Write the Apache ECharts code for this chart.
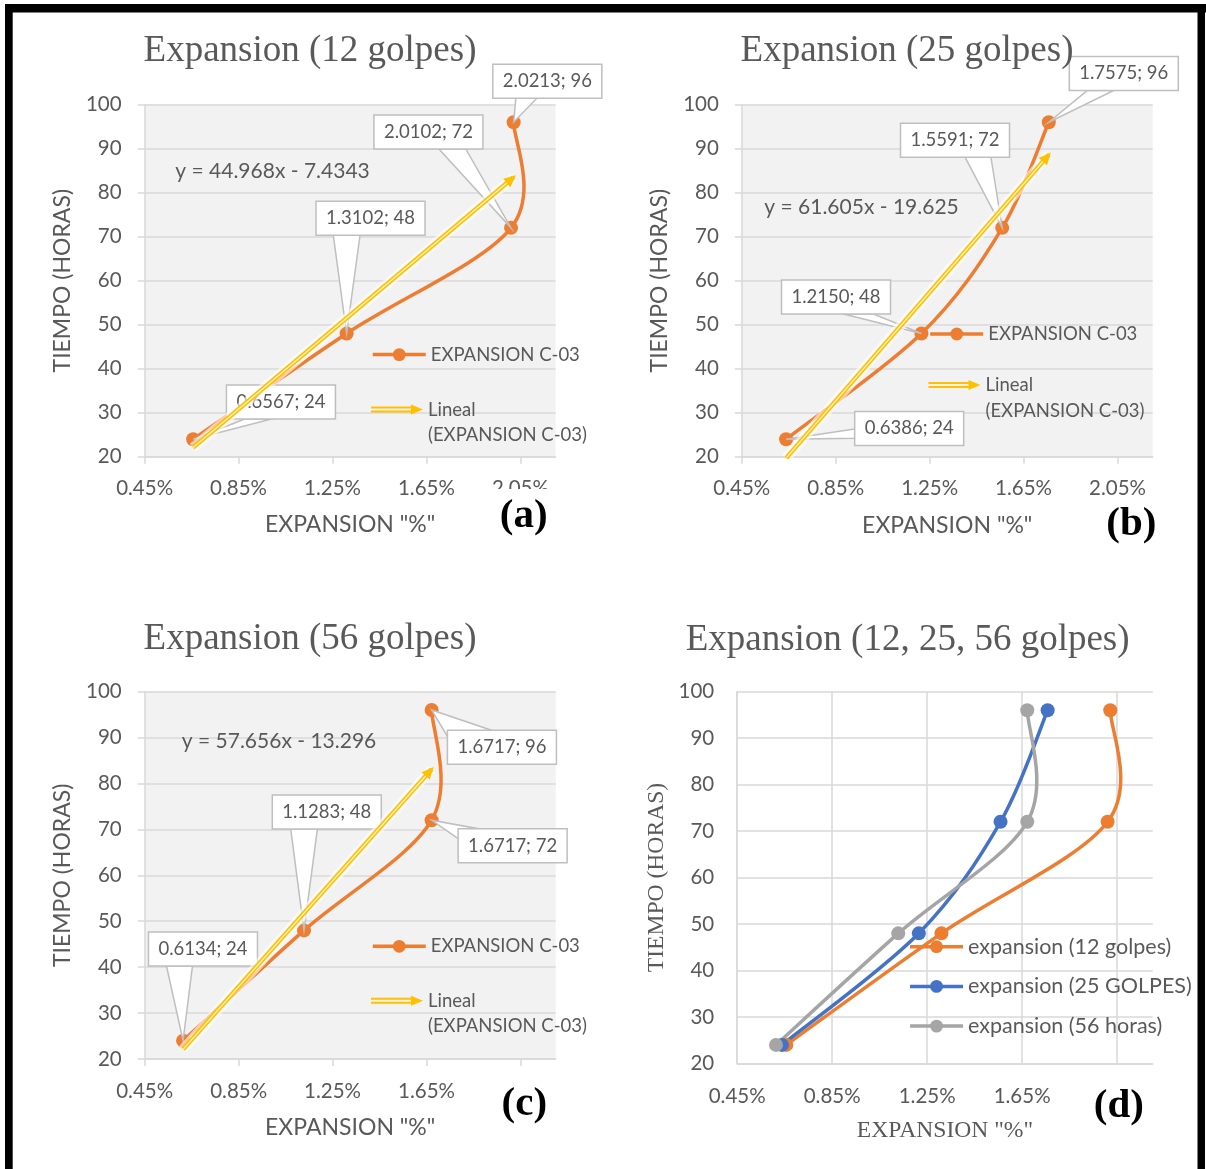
<!DOCTYPE html>
<html>
<head>
<meta charset="utf-8">
<script src="https://cdn.jsdelivr.net/npm/echarts@6/dist/echarts.min.js"></script>
<style>html,body{margin:0;padding:0;background:#fff}#c{width:1206px;height:1169px}</style>
</head>
<body>
<div id="c"></div>
<script>
// ---------------- data ----------------
const hours   = [24, 48, 72, 96];
const exp12   = [0.6567, 1.3102, 2.0102, 2.0213];
const exp25   = [0.6386, 1.2150, 1.5591, 1.7575];
const exp56   = [0.6134, 1.1283, 1.6717, 1.6717];
const xTicks  = [0.45, 0.85, 1.25, 1.65, 2.05];
const xLabelsAB = [0.45, 0.85, 1.25, 1.65, 2.05];
const xLabelsCD = [0.45, 0.85, 1.25, 1.65];
// linear trend lines (start / end points of the drawn trendline)
const trend12 = [[0.6567, 22.1], [2.0213, 83.5]];
const trend25 = [[0.6386, 19.7], [1.7575, 88.6]];
const trend56 = [[0.6134, 22.1], [1.6717, 83.1]];
const eqTexts = ['y = 44.968x - 7.4343', 'y = 61.605x - 19.625', 'y = 57.656x - 13.296'];
const titles  = ['Expansion (12 golpes)', 'Expansion (25 golpes)', 'Expansion (56 golpes)', 'Expansion (12, 25, 56 golpes)'];
const panelTags = ['(a)', '(b)', '(c)', '(d)'];
const seriesMain = 'EXPANSION C-03';
const seriesTrend = 'Lineal (EXPANSION C-03)';
const seriesD = ['expansion (12 golpes)', 'expansion (25 GOLPES)', 'expansion (56 horas)'];

// ---------------- styles / layout ----------------
const SANS = 'Lato', SERIF = 'Liberation Serif', TXT = '#595959', GL = '#d9d9d9';
const C_OR = '#ed7d31', C_BL = '#4472c4', C_GR = '#a5a5a5', C_YE = '#ffc000';
const grids = [
  {left: 144.6, top: 104.6, width: 411, height: 352.2},
  {left: 741.8, top: 104.6, width: 410.9, height: 352.2},
  {left: 144.7, top: 691.6, width: 411, height: 367.4},
  {left: 737.2, top: 691.6, width: 415.5, height: 371.9}
];
const yNameGap = [71, 70.4, 71, 68.4];
const xNameGap = [56.7, 57, 57.3, 55.7];
const xLabMargin = [20.7, 21.1, 22, 21.9];
const BW = 109, BH = 34;
const callouts = [
  [ {dx: 33.3, dy: -54.2, w1: [18.4, BH], w2: [45, BH]},
    {dx: -30.6, dy: -132.2, w1: [17.3, BH], w2: [44, BH]},
    {dx: -137.1, dy: -112.9, w1: [65, BH], w2: [91.8, BH]},
    {dx: -20.8, dy: -58, w1: [23, BH], w2: [44, BH]} ],
  [ {dx: 68.6, dy: -27.7, w1: [0, 17.5], w2: [0, 26.8]},
    {dx: -139.9, dy: -53.5, w1: [62, BH], w2: [92, BH]},
    {dx: -101.7, dy: -104.7, w1: [64.5, BH], w2: [90.4, BH]},
    {dx: 20.5, dy: -65.8, w1: [18.1, BH], w2: [44.4, BH]} ],
  [ {dx: -34.6, dy: -108.6, w1: [18, BH], w2: [44, BH]},
    {dx: -31.7, dy: -135.5, w1: [18.4, BH], w2: [45.1, BH]},
    {dx: 26.5, dy: 8.5, w1: [0, 10], w2: [20, 0]},
    {dx: 15.8, dy: 20.3, w1: [0, 6], w2: [44, 0]} ]
];

function pairs(xs) { return hours.map((h, i) => [xs[i], h]); }

function curvePath(pts) {
  const n = pts.length;
  let d = 'M' + pts[0][0] + ',' + pts[0][1];
  for (let i = 0; i < n - 1; i++) {
    const p0 = pts[Math.max(i - 1, 0)], p1 = pts[i], p2 = pts[i + 1], p3 = pts[Math.min(i + 2, n - 1)];
    const c1 = [p1[0] + (p2[0] - p0[0]) / 6, p1[1] + (p2[1] - p0[1]) / 6];
    const c2 = [p2[0] - (p3[0] - p1[0]) / 6, p2[1] - (p3[1] - p1[1]) / 6];
    d += ' C' + c1[0] + ',' + c1[1] + ' ' + c2[0] + ',' + c2[1] + ' ' + p2[0] + ',' + p2[1];
  }
  return d;
}

function curveSeries(g, xs, color, z) {
  return {
    type: 'custom', coordinateSystem: 'cartesian2d', xAxisIndex: g, yAxisIndex: g, z: z,
    silent: true, animation: false, data: [[xs[0], hours[0]]],
    renderItem: function (params, api) {
      const pts = xs.map((x, i) => api.coord([x, hours[i]]));
      return {type: 'path', shape: {pathData: curvePath(pts)},
        style: {fill: 'none', stroke: color, lineWidth: 3.5, lineCap: 'round', lineJoin: 'round'}};
    }
  };
}

function markerSeries(g, name, xs, color, z) {
  return {
    name: name, type: 'line', xAxisIndex: g, yAxisIndex: g, z: z, data: pairs(xs),
    symbol: 'circle', symbolSize: 14, showSymbol: true, color: color,
    itemStyle: {color: color}, lineStyle: {color: color, width: 3.5, opacity: 0},
    emphasis: {disabled: true}, animation: false
  };
}

function calloutSeries(g, xs) {
  const cfg = callouts[g];
  return {
    type: 'custom', coordinateSystem: 'cartesian2d', xAxisIndex: g, yAxisIndex: g, z: 4,
    silent: true, animation: false, clip: false,
    data: hours.map((h, i) => [xs[i], h, i]),
    renderItem: function (params, api) {
      const x = api.value(0), y = api.value(1), i = api.value(2);
      const p = api.coord([x, y]);
      const c = cfg[i];
      const bx = p[0] + c.dx, by = p[1] + c.dy;
      return {type: 'group', children: [
        {type: 'polygon', shape: {points: [[bx + c.w1[0], by + c.w1[1]], p, [bx + c.w2[0], by + c.w2[1]]]},
          style: {fill: '#fff', stroke: '#bfbfbf', lineWidth: 1.5}},
        {type: 'rect', shape: {x: bx, y: by, width: BW, height: BH},
          style: {fill: '#fff', stroke: '#bfbfbf', lineWidth: 1.5}},
        {type: 'text', x: bx + BW / 2, y: by + BH / 2,
          style: {text: x.toFixed(4) + '; ' + y, fontFamily: SANS, fontSize: 18.5, fill: TXT,
            align: 'center', verticalAlign: 'middle'}}
      ]};
    }
  };
}

function trendSeries(g, tr) {
  return [
    {type: 'line', xAxisIndex: g, yAxisIndex: g, z: 5, data: tr, symbol: 'none', silent: true,
      lineStyle: {color: 'rgba(255,255,255,0.6)', width: 10}, animation: false},
    {name: seriesTrend, type: 'line', xAxisIndex: g, yAxisIndex: g, z: 6, data: tr, symbol: 'none',
      color: C_YE, itemStyle: {color: C_YE}, silent: true,
      lineStyle: {color: C_YE, width: 4.5}, animation: false},
    {type: 'line', xAxisIndex: g, yAxisIndex: g, z: 7, data: tr, symbol: 'none', silent: true,
      lineStyle: {color: '#fff3c4', width: 1.3}, animation: false},
    // arrow head at the end of the trend line
    {type: 'custom', coordinateSystem: 'cartesian2d', xAxisIndex: g, yAxisIndex: g, z: 8,
      silent: true, animation: false, clip: false, data: [tr[1]],
      renderItem: function (params, api) {
        const a = api.coord(tr[0]), b = api.coord(tr[1]);
        const L = Math.hypot(b[0] - a[0], b[1] - a[1]);
        const ux = (b[0] - a[0]) / L, uy = (b[1] - a[1]) / L, px = -uy, py = ux;
        const tip = [b[0] + ux * 3, b[1] + uy * 3];
        const base = [b[0] - ux * 9, b[1] - uy * 9];
        return {type: 'polygon', shape: {points: [tip, [base[0] + px * 5.5, base[1] + py * 5.5], [base[0] - px * 5.5, base[1] - py * 5.5]]},
          style: {fill: C_YE, stroke: 'none'}};
      }}
  ];
}

function xAxis(g) {
  const isD = g === 3;
  return {
    gridIndex: g, type: 'value', min: 0.45, max: 2.2,
    axisLine: {show: true, onZero: false, lineStyle: {color: GL, width: 1.5}},
    axisTick: {show: !isD, length: 7, lineStyle: {color: GL, width: 1.5}, customValues: xTicks},
    axisLabel: {customValues: g < 2 ? xLabelsAB : xLabelsCD, formatter: v => v.toFixed(2) + '%',
      margin: xLabMargin[g], fontFamily: SANS, fontSize: 20.5, color: TXT},
    splitLine: {show: isD, lineStyle: {color: GL, width: 1.5}},
    name: 'EXPANSION "%"', nameLocation: 'middle', nameGap: xNameGap[g],
    nameTextStyle: {fontFamily: isD ? SERIF : SANS, fontSize: isD ? 23.6 : 23, color: TXT}
  };
}
function yAxis(g) {
  const isD = g === 3;
  return {
    gridIndex: g, type: 'value', min: 20, max: 100, interval: 10,
    axisLine: {show: true, onZero: false, lineStyle: {color: GL, width: 1.5}},
    axisTick: {show: !isD, length: 7, lineStyle: {color: GL, width: 1.5}},
    axisLabel: {margin: 23, fontFamily: SANS, fontSize: 20.5, color: TXT},
    splitLine: {show: true, lineStyle: {color: GL, width: 1.5}},
    name: 'TIEMPO (HORAS)', nameLocation: 'middle', nameGap: yNameGap[g], nameRotate: 90,
    nameTextStyle: {fontFamily: isD ? SERIF : SANS, fontSize: isD ? 23.6 : 23, color: TXT}
  };
}

const arrowIcon = 'path://M0,2L40,2L40,0L52,5L40,10L40,8L0,8Z M0,4L0,6L40,6L40,4Z';
function legendMain(left, cy) {
  return {data: [seriesMain], left: left, top: cy - 11, padding: 0, itemWidth: 53, itemHeight: 16,
    selectedMode: false, lineStyle: {opacity: 1, width: 3.5},
    textStyle: {fontFamily: SANS, fontSize: 18.5, color: TXT, lineHeight: 22}};
}
function legendTrend(left, cy, lh) {
  return {data: [{name: seriesTrend, icon: arrowIcon}], left: left, top: cy - 1.5 * lh, padding: 0,
    itemWidth: 52, itemHeight: 10, selectedMode: false,
    formatter: n => '\n' + n.replace(' ', '\n'),
    textStyle: {fontFamily: SANS, fontSize: 18.5, color: TXT, lineHeight: lh}};
}

const xsByPanel = [exp12, exp25, exp56];
const trends = [trend12, trend25, trend56];
let series = [];
for (let g = 0; g < 3; g++) {
  series.push(curveSeries(g, xsByPanel[g], C_OR, 2));
  series.push(markerSeries(g, seriesMain, xsByPanel[g], C_OR, 3));
  series.push(calloutSeries(g, xsByPanel[g]));
  series = series.concat(trendSeries(g, trends[g]));
}
[[exp12, C_OR, seriesD[0]], [exp25, C_BL, seriesD[1]], [exp56, C_GR, seriesD[2]]].forEach((s, k) => {
  series.push(curveSeries(3, s[0], s[1], 2 + k * 0.01));
  series.push(markerSeries(3, s[2], s[0], s[1], 3 + k * 0.01));
});

const titlePos = [[310, 51.5], [907, 51.5], [310, 639], [907.6, 640]];
const eqPos = [[175.3, 171.5], [764.3, 207], [181.8, 741.5]];
const tagPos = [[523.7, 516], [1131.4, 524.6], [524.3, 1104.7], [1118.9, 1106.4]];

const graphic = [];
graphic.push({type: 'rect', z: 100, shape: {x: 5, y: 4, width: 1201, height: 8.5}, style: {fill: '#000'}});
graphic.push({type: 'rect', z: 100, shape: {x: 5, y: 4, width: 7.7, height: 1165}, style: {fill: '#000'}});
graphic.push({type: 'rect', z: 100, shape: {x: 1197.5, y: 4, width: 7.5, height: 1165}, style: {fill: '#000'}});
graphic.push({type: 'rect', z: 50, shape: {x: 488, y: 489, width: 72, height: 60}, style: {fill: '#fff'}});
titles.forEach((t, i) => graphic.push({type: 'text', z: 60, x: titlePos[i][0], y: titlePos[i][1],
  style: {text: t, fontFamily: SERIF, fontSize: 37, fill: TXT, align: 'center', verticalAlign: 'middle'}}));
eqTexts.forEach((t, i) => graphic.push({type: 'text', z: 60, x: eqPos[i][0], y: eqPos[i][1],
  style: {text: t, fontFamily: SANS, fontSize: 21, fill: TXT, align: 'left', verticalAlign: 'middle'}}));
panelTags.forEach((t, i) => graphic.push({type: 'text', z: 60, x: tagPos[i][0], y: tagPos[i][1],
  style: {text: t, fontFamily: SERIF, fontSize: 41, fontWeight: 'bold', fill: '#000', align: 'center', verticalAlign: 'middle'}}));

const option = {
  animation: false,
  backgroundColor: '#fff',
  grid: grids.map((g, i) => Object.assign({show: true, backgroundColor: i < 3 ? '#f2f2f2' : '#fff', borderWidth: 0, containLabel: false}, g)),
  xAxis: [0, 1, 2, 3].map(xAxis),
  yAxis: [0, 1, 2, 3].map(yAxis),
  legend: [
    legendMain(371, 354.6), legendTrend(371, 409.6, 25.4),
    legendMain(928.5, 334), legendTrend(928.5, 385, 25.7),
    legendMain(371, 946.3), legendTrend(371, 1000.7, 25.6),
    {data: seriesD, left: 908.3, top: 946.7 - 12, padding: 0, orient: 'vertical', itemGap: 15.7,
      itemWidth: 53, itemHeight: 16, selectedMode: false, lineStyle: {opacity: 1, width: 3.5},
      textStyle: {fontFamily: SANS, fontSize: 21.5, color: TXT, lineHeight: 24}}
  ],
  graphic: graphic,
  series: series
};
const chart = echarts.init(document.getElementById('c'), null, {renderer: 'canvas'});
chart.setOption(option);
</script>
</body>
</html>
